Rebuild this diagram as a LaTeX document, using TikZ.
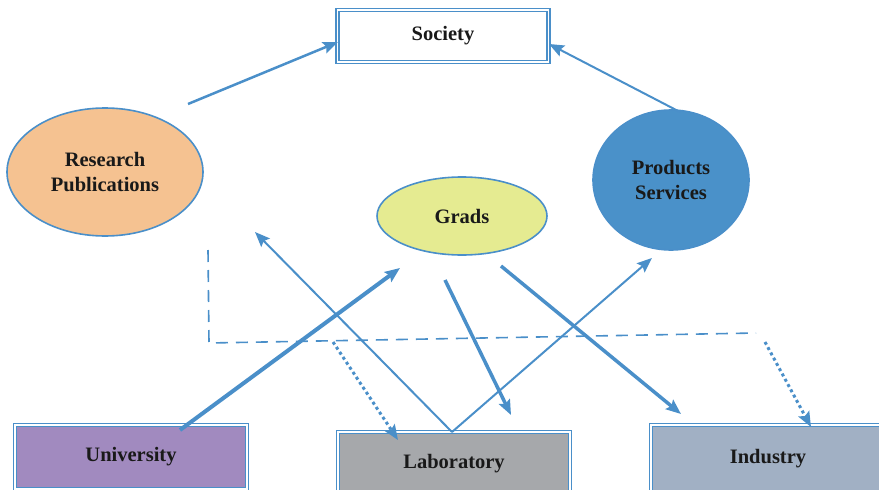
\documentclass[tikz,border=0pt]{standalone}
\usepackage{fontspec}
\setmainfont{Liberation Serif}
\usetikzlibrary{arrows.meta,shapes.geometric}
\definecolor{LinkClr}{rgb}{0.29,0.56,0.79}
\definecolor{PubClr}{rgb}{0.96,0.76,0.57}
\definecolor{GradClr}{rgb}{0.90,0.92,0.57}
\definecolor{ProdClr}{rgb}{0.29,0.57,0.79}
\definecolor{UniClr}{rgb}{0.63,0.54,0.75}
\definecolor{LabClr}{rgb}{0.65,0.66,0.67}
\definecolor{IndClr}{rgb}{0.63,0.69,0.77}

\tikzset{
  txt/.style={font=\fontsize{20.5}{25}\selectfont\bfseries, text=black!90, align=center},
  dbox/.style={txt, draw=LinkClr, line width=1.4pt, double=white, double distance=1.8pt,
    rectangle, inner sep=0pt},
  blob/.style={txt, ellipse, draw=LinkClr, line width=1.6pt, inner sep=0pt},
  link/.style={draw=LinkClr, -{Stealth[length=15pt,width=12pt,inset=2.5pt]}},
}

\begin{document}
\begin{tikzpicture}[x=1pt,y=-1pt]
\useasboundingbox (0,0) rectangle (879,490);

% boxes
\node[dbox, minimum width=211pt, minimum height=52pt] (soc) at (443,36) {Society};
\node[dbox, fill=UniClr, minimum width=232pt, minimum height=64pt] (uni) at (131,457) {University};
\node[dbox, fill=LabClr, minimum width=232pt, minimum height=64pt] (lab) at (454,464) {Laboratory};
\node[dbox, fill=IndClr, minimum width=234pt, minimum height=68pt] (ind) at (768,459) {Industry};

% ellipses
\node[blob, fill=PubClr, minimum width=196pt, minimum height=128pt] (pub) at (105,172) {Research\\Publications};
\node[blob, fill=GradClr, minimum width=170pt, minimum height=78pt] (grad) at (462,216) {Grads};
\node[blob, fill=ProdClr, minimum width=156pt, minimum height=140pt] (prod) at (671,180) {Products\\Services};

% free ends
\coordinate (p1) at (188,104);
\coordinate (s1) at (338,42);
\coordinate (p2) at (680,112);
\coordinate (s2) at (549,44);
\coordinate (u1) at (180,430);
\coordinate (g1) at (400,268);
\coordinate (l1) at (452,432);
\coordinate (r1) at (255,232);
\coordinate (q1) at (652,258);
\coordinate (g2) at (445,280);
\coordinate (l2) at (511,415);
\coordinate (g3) at (501,266);
\coordinate (i1) at (681,414);
\coordinate (d1) at (208,250);
\coordinate (d2) at (209,343);
\coordinate (d3) at (756,333);
\coordinate (t1) at (333,342);
\coordinate (l3) at (398,440);
\coordinate (t2) at (765,342);
\coordinate (i2) at (811,427);

\draw[link, line width=2.5pt] (p1) -- (s1);
\draw[link, line width=2pt] (p2) -- (s2);
\draw[link, line width=4pt] (u1) -- (g1);
\draw[link, line width=2pt] (l1) -- (r1);
\draw[link, line width=2pt] (l1) -- (q1);
\draw[link, line width=3.5pt] (g2) -- (l2);
\draw[link, line width=3.5pt] (g3) -- (i1);

\draw[LinkClr, line width=1.6pt, dash pattern=on 12pt off 8pt] (d1) -- (d2) -- (d3);
\draw[link, line width=3pt, dash pattern=on 3pt off 3pt] (t1) -- (l3);
\draw[link, line width=3pt, dash pattern=on 3pt off 3pt] (t2) -- (i2);

\end{tikzpicture}
\end{document}
